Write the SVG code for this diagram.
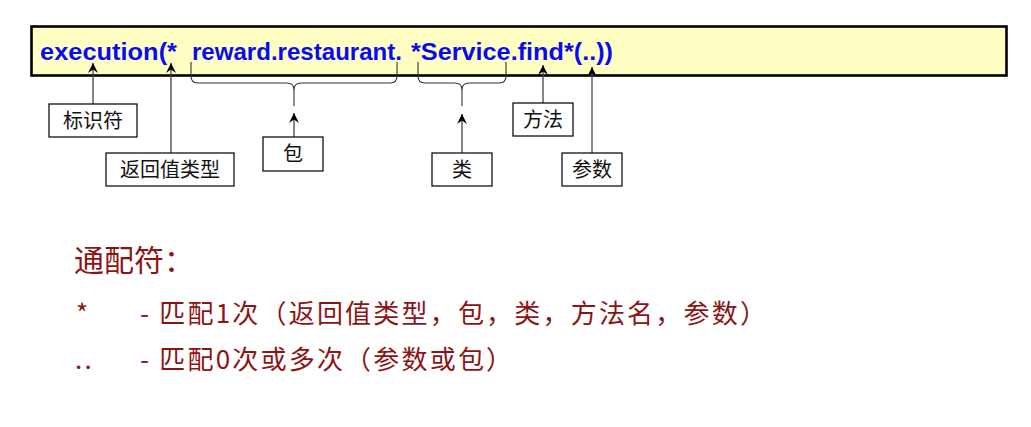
<svg xmlns="http://www.w3.org/2000/svg" width="1031" height="427" viewBox="0 0 1031 427">
<style>
.code{font-family:"Liberation Sans","DejaVu Sans",sans-serif;font-weight:bold;font-size:24px;fill:#0A0AF0}
.lbl{font-family:"Noto Sans CJK SC","Noto Sans",sans-serif;font-size:20px;fill:#111;text-anchor:middle}
.box{fill:#fff;stroke:#111;stroke-width:1.3}
.ln{stroke:#444;stroke-width:1.3;fill:none}
.br{stroke:#333;stroke-width:1.1;fill:none}
.red{font-family:"Noto Sans CJK SC","Noto Sans",sans-serif;fill:#8B1414}
.body{font-size:26px;letter-spacing:2.2px}
</style>
<defs>
<marker id="ah" markerUnits="userSpaceOnUse" markerWidth="14" markerHeight="14" viewBox="-12 -7 14 14" refX="0" refY="0" orient="auto">
<path d="M0,0 L-10,-5 L-6.5,0 L-10,5 Z" fill="#000"/>
</marker>
</defs>
<rect width="1031" height="427" fill="#fff"/>
<g id="expr">
<rect x="31.5" y="26.5" width="975" height="49" fill="#FFFFC4" stroke="#000" stroke-width="2.6"/>
<text class="code" y="60"><tspan x="40" textLength="137" lengthAdjust="spacingAndGlyphs">execution(*</tspan><tspan x="192" textLength="210" lengthAdjust="spacingAndGlyphs">reward.restaurant.</tspan><tspan x="411" textLength="202" lengthAdjust="spacingAndGlyphs">*Service.find*(..))</tspan></text>
</g>
<g id="connectors">
<path class="br" d="M191,62 L191,76 Q191,83 198,83 L287,83 Q294,83 294,90 L294,106 M294,90 Q294,83 301,83 L390,83 Q397,83 397,76 L397,62"/>
<path class="br" d="M418,62 L418,76 Q418,83 425,83 L455,83 Q462,83 462,90 L462,106 M462,90 Q462,83 469,83 L499,83 Q506,83 506,76 L506,62"/>
<line class="ln" x1="93" y1="104" x2="93" y2="63" marker-end="url(#ah)"/>
<line class="ln" x1="171" y1="153" x2="171" y2="63" marker-end="url(#ah)"/>
<line class="ln" x1="294" y1="137" x2="294" y2="113" marker-end="url(#ah)"/>
<line class="ln" x1="462" y1="153" x2="462" y2="114" marker-end="url(#ah)"/>
<line class="ln" x1="543" y1="103" x2="543" y2="65" marker-end="url(#ah)"/>
<line class="ln" x1="592" y1="153" x2="592" y2="67" marker-end="url(#ah)"/>
</g>
<g id="n-identifier"><rect class="box" x="49" y="104" width="88" height="33"/><text class="lbl" x="93" y="128">标识符</text></g>
<g id="n-return"><rect class="box" x="106" y="153" width="128" height="33"/><text class="lbl" x="170" y="177">返回值类型</text></g>
<g id="n-package"><rect class="box" x="263" y="137" width="60" height="34"/><text class="lbl" x="293" y="161">包</text></g>
<g id="n-class"><rect class="box" x="432" y="153" width="60" height="33"/><text class="lbl" x="462" y="177">类</text></g>
<g id="n-method"><rect class="box" x="513" y="103" width="60" height="33"/><text class="lbl" x="543" y="127">方法</text></g>
<g id="n-params"><rect class="box" x="562" y="153" width="60" height="33"/><text class="lbl" x="592" y="177">参数</text></g>
<g id="notes">
<text class="red" x="74" y="271" font-size="30">通配符：</text>
<text class="red body" x="76" y="323">*</text>
<text class="red body" x="140" y="323">- 匹配1次（返回值类型，包，类，方法名，参数）</text>
<text class="red body" x="75" y="369">..</text>
<text class="red body" x="140" y="369">- 匹配0次或多次（参数或包）</text>
</g>
</svg>
